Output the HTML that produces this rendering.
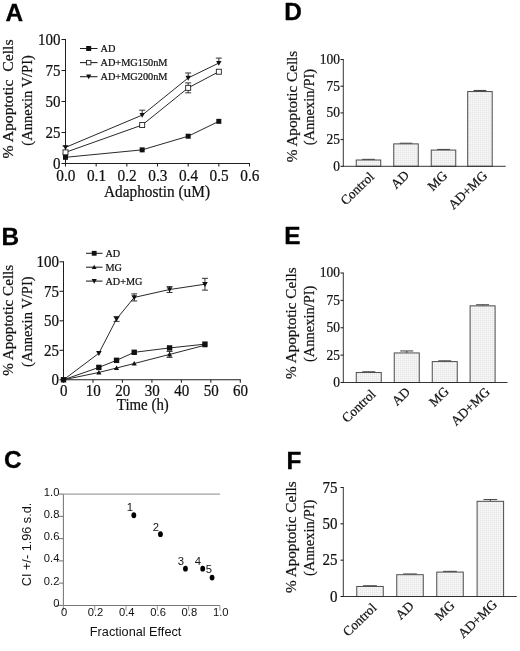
<!DOCTYPE html>
<html><head><meta charset="utf-8"><title>Figure</title>
<style>
html,body{margin:0;padding:0;background:#fff;}
body{width:520px;height:651px;overflow:hidden;font-family:"Liberation Serif",serif;}
svg{display:block;filter:grayscale(1) blur(0.28px);}
</style></head><body>
<svg width="520" height="651" viewBox="0 0 520 651">
<rect width="520" height="651" fill="#fff"/>
<text x="5.50" y="21.30" font-family='"Liberation Sans", sans-serif' font-size="24.4" text-anchor="start" font-weight="bold" fill="#000" stroke="#000" stroke-width="0.3">A</text>
<text x="1.40" y="245.30" font-family='"Liberation Sans", sans-serif' font-size="24.4" text-anchor="start" font-weight="bold" fill="#000" stroke="#000" stroke-width="0.3">B</text>
<text x="3.90" y="468.00" font-family='"Liberation Sans", sans-serif' font-size="24.4" text-anchor="start" font-weight="bold" fill="#000" stroke="#000" stroke-width="0.3">C</text>
<text x="284.20" y="20.40" font-family='"Liberation Sans", sans-serif' font-size="24.4" text-anchor="start" font-weight="bold" fill="#000" stroke="#000" stroke-width="0.3">D</text>
<text x="284.20" y="244.20" font-family='"Liberation Sans", sans-serif' font-size="24.4" text-anchor="start" font-weight="bold" fill="#000" stroke="#000" stroke-width="0.3">E</text>
<text x="286.60" y="468.60" font-family='"Liberation Sans", sans-serif' font-size="24.4" text-anchor="start" font-weight="bold" fill="#000" stroke="#000" stroke-width="0.3">F</text>
<line x1="65.50" y1="39.00" x2="65.50" y2="164.00" stroke="#1e1e1e" stroke-width="1.05"/>
<line x1="65.00" y1="163.50" x2="250.00" y2="163.50" stroke="#1e1e1e" stroke-width="1.05"/>
<line x1="61.50" y1="163.50" x2="65.50" y2="163.50" stroke="#1e1e1e" stroke-width="1.05"/>
<text x="0" y="0" font-family='"Liberation Serif", serif' font-size="15" text-anchor="end" font-weight="normal" fill="#111" transform="translate(60.50 169.00) scale(1 1.09)"  stroke="#111" stroke-width="0.22">0</text>
<line x1="61.50" y1="132.50" x2="65.50" y2="132.50" stroke="#1e1e1e" stroke-width="1.05"/>
<text x="0" y="0" font-family='"Liberation Serif", serif' font-size="15" text-anchor="end" font-weight="normal" fill="#111" transform="translate(60.50 138.00) scale(1 1.09)"  stroke="#111" stroke-width="0.22">25</text>
<line x1="61.50" y1="101.50" x2="65.50" y2="101.50" stroke="#1e1e1e" stroke-width="1.05"/>
<text x="0" y="0" font-family='"Liberation Serif", serif' font-size="15" text-anchor="end" font-weight="normal" fill="#111" transform="translate(60.50 107.00) scale(1 1.09)"  stroke="#111" stroke-width="0.22">50</text>
<line x1="61.50" y1="70.50" x2="65.50" y2="70.50" stroke="#1e1e1e" stroke-width="1.05"/>
<text x="0" y="0" font-family='"Liberation Serif", serif' font-size="15" text-anchor="end" font-weight="normal" fill="#111" transform="translate(60.50 76.00) scale(1 1.09)"  stroke="#111" stroke-width="0.22">75</text>
<line x1="61.50" y1="39.50" x2="65.50" y2="39.50" stroke="#1e1e1e" stroke-width="1.05"/>
<text x="0" y="0" font-family='"Liberation Serif", serif' font-size="15" text-anchor="end" font-weight="normal" fill="#111" transform="translate(60.50 45.00) scale(1 1.09)"  stroke="#111" stroke-width="0.22">100</text>
<line x1="65.50" y1="163.50" x2="65.50" y2="166.50" stroke="#1e1e1e" stroke-width="1.05"/>
<text x="0" y="0" font-family='"Liberation Serif", serif' font-size="15.3" text-anchor="middle" font-weight="normal" fill="#111" transform="translate(65.80 180.70) scale(1 1.09)"  stroke="#111" stroke-width="0.22">0.0</text>
<line x1="96.17" y1="163.50" x2="96.17" y2="166.50" stroke="#1e1e1e" stroke-width="1.05"/>
<text x="0" y="0" font-family='"Liberation Serif", serif' font-size="15.3" text-anchor="middle" font-weight="normal" fill="#111" transform="translate(96.47 180.70) scale(1 1.09)"  stroke="#111" stroke-width="0.22">0.1</text>
<line x1="126.83" y1="163.50" x2="126.83" y2="166.50" stroke="#1e1e1e" stroke-width="1.05"/>
<text x="0" y="0" font-family='"Liberation Serif", serif' font-size="15.3" text-anchor="middle" font-weight="normal" fill="#111" transform="translate(127.13 180.70) scale(1 1.09)"  stroke="#111" stroke-width="0.22">0.2</text>
<line x1="157.50" y1="163.50" x2="157.50" y2="166.50" stroke="#1e1e1e" stroke-width="1.05"/>
<text x="0" y="0" font-family='"Liberation Serif", serif' font-size="15.3" text-anchor="middle" font-weight="normal" fill="#111" transform="translate(157.80 180.70) scale(1 1.09)"  stroke="#111" stroke-width="0.22">0.3</text>
<line x1="188.17" y1="163.50" x2="188.17" y2="166.50" stroke="#1e1e1e" stroke-width="1.05"/>
<text x="0" y="0" font-family='"Liberation Serif", serif' font-size="15.3" text-anchor="middle" font-weight="normal" fill="#111" transform="translate(188.47 180.70) scale(1 1.09)"  stroke="#111" stroke-width="0.22">0.4</text>
<line x1="218.83" y1="163.50" x2="218.83" y2="166.50" stroke="#1e1e1e" stroke-width="1.05"/>
<text x="0" y="0" font-family='"Liberation Serif", serif' font-size="15.3" text-anchor="middle" font-weight="normal" fill="#111" transform="translate(219.13 180.70) scale(1 1.09)"  stroke="#111" stroke-width="0.22">0.5</text>
<line x1="249.50" y1="163.50" x2="249.50" y2="166.50" stroke="#1e1e1e" stroke-width="1.05"/>
<text x="0" y="0" font-family='"Liberation Serif", serif' font-size="15.3" text-anchor="middle" font-weight="normal" fill="#111" transform="translate(249.80 180.70) scale(1 1.09)"  stroke="#111" stroke-width="0.22">0.6</text>
<text x="0" y="0" font-family='"Liberation Serif", serif' font-size="15.6" text-anchor="middle" font-weight="normal" fill="#111" transform="translate(157.00 196.60) scale(1 1.09)"  textLength="106.0" lengthAdjust="spacingAndGlyphs" stroke="#111" stroke-width="0.22">Adaphostin (uM)</text>
<text x="13.20" y="99.00" font-family='"Liberation Serif", serif' font-size="15" text-anchor="middle" font-weight="normal" fill="#111" transform="rotate(-90 13.20 99.00)" xml:space="preserve" textLength="119" lengthAdjust="spacingAndGlyphs" stroke="#111" stroke-width="0.22">% Apoptotic  Cells</text>
<text x="31.60" y="100.40" font-family='"Liberation Serif", serif' font-size="15" text-anchor="middle" font-weight="normal" fill="#111" transform="rotate(-90 31.60 100.40)"  textLength="90.5" lengthAdjust="spacingAndGlyphs" stroke="#111" stroke-width="0.22">(Annexin V/PI)</text>
<polyline fill="none" stroke="#1e1e1e" stroke-width="0.95" points="65.50,157.30 142.17,149.86 188.17,136.22 218.83,121.34"/>
<polyline fill="none" stroke="#1e1e1e" stroke-width="0.95" points="65.50,152.34 142.17,125.06 188.17,87.86 218.83,71.74"/>
<polyline fill="none" stroke="#1e1e1e" stroke-width="0.95" points="65.50,147.38 142.17,115.14 188.17,77.94 218.83,63.06"/>
<line x1="65.50" y1="146.14" x2="65.50" y2="147.38" stroke="#1e1e1e" stroke-width="0.9"/>
<line x1="62.50" y1="146.14" x2="68.50" y2="146.14" stroke="#1e1e1e" stroke-width="0.9"/>
<path d="M62.80 145.22 L68.20 145.22 L65.50 150.08Z" fill="#111"/>
<line x1="142.17" y1="110.18" x2="142.17" y2="115.14" stroke="#1e1e1e" stroke-width="0.9"/>
<line x1="139.17" y1="110.18" x2="145.17" y2="110.18" stroke="#1e1e1e" stroke-width="0.9"/>
<path d="M139.47 112.98 L144.87 112.98 L142.17 117.84Z" fill="#111"/>
<line x1="188.17" y1="72.98" x2="188.17" y2="77.94" stroke="#1e1e1e" stroke-width="0.9"/>
<line x1="185.17" y1="72.98" x2="191.17" y2="72.98" stroke="#1e1e1e" stroke-width="0.9"/>
<path d="M185.47 75.78 L190.87 75.78 L188.17 80.64Z" fill="#111"/>
<line x1="218.83" y1="58.10" x2="218.83" y2="63.06" stroke="#1e1e1e" stroke-width="0.9"/>
<line x1="215.83" y1="58.10" x2="221.83" y2="58.10" stroke="#1e1e1e" stroke-width="0.9"/>
<path d="M216.13 60.90 L221.53 60.90 L218.83 65.76Z" fill="#111"/>
<rect x="63.00" y="149.84" width="5.0" height="5.0" fill="#fff" stroke="#222" stroke-width="0.9"/>
<rect x="139.67" y="122.56" width="5.0" height="5.0" fill="#fff" stroke="#222" stroke-width="0.9"/>
<line x1="188.17" y1="82.90" x2="188.17" y2="87.86" stroke="#1e1e1e" stroke-width="0.9"/>
<line x1="185.17" y1="82.90" x2="191.17" y2="82.90" stroke="#1e1e1e" stroke-width="0.9"/>
<line x1="188.17" y1="87.86" x2="188.17" y2="92.82" stroke="#1e1e1e" stroke-width="0.9"/>
<line x1="185.17" y1="92.82" x2="191.17" y2="92.82" stroke="#1e1e1e" stroke-width="0.9"/>
<rect x="185.67" y="85.36" width="5.0" height="5.0" fill="#fff" stroke="#222" stroke-width="0.9"/>
<rect x="216.33" y="69.24" width="5.0" height="5.0" fill="#fff" stroke="#222" stroke-width="0.9"/>
<rect x="63.00" y="154.80" width="5.0" height="5.0" fill="#111"/>
<rect x="139.67" y="147.36" width="5.0" height="5.0" fill="#111"/>
<rect x="185.67" y="133.72" width="5.0" height="5.0" fill="#111"/>
<rect x="216.33" y="118.84" width="5.0" height="5.0" fill="#111"/>
<line x1="80.00" y1="48.50" x2="97.50" y2="48.50" stroke="#1e1e1e" stroke-width="1.05"/>
<rect x="86.20" y="46.00" width="5.0" height="5.0" fill="#111"/>
<text x="0" y="0" font-family='"Liberation Serif", serif' font-size="10.3" text-anchor="start" font-weight="normal" fill="#111" transform="translate(100.50 52.20) scale(1 1.09)"  stroke="#111" stroke-width="0.22">AD</text>
<line x1="80.00" y1="62.60" x2="97.50" y2="62.60" stroke="#1e1e1e" stroke-width="1.05"/>
<rect x="86.50" y="60.40" width="4.4" height="4.4" fill="#fff" stroke="#222" stroke-width="0.9"/>
<text x="0" y="0" font-family='"Liberation Serif", serif' font-size="10.3" text-anchor="start" font-weight="normal" fill="#111" transform="translate(100.50 66.30) scale(1 1.09)"  stroke="#111" stroke-width="0.22">AD+MG150nM</text>
<line x1="80.00" y1="76.70" x2="97.50" y2="76.70" stroke="#1e1e1e" stroke-width="1.05"/>
<path d="M86.10 74.62 L91.30 74.62 L88.70 79.30Z" fill="#111"/>
<text x="0" y="0" font-family='"Liberation Serif", serif' font-size="10.3" text-anchor="start" font-weight="normal" fill="#111" transform="translate(100.50 80.40) scale(1 1.09)"  stroke="#111" stroke-width="0.22">AD+MG200nM</text>
<line x1="63.50" y1="261.30" x2="63.50" y2="380.30" stroke="#1e1e1e" stroke-width="1.05"/>
<line x1="63.00" y1="379.80" x2="240.80" y2="379.80" stroke="#1e1e1e" stroke-width="1.05"/>
<line x1="59.50" y1="379.80" x2="63.50" y2="379.80" stroke="#1e1e1e" stroke-width="1.05"/>
<text x="0" y="0" font-family='"Liberation Serif", serif' font-size="15" text-anchor="end" font-weight="normal" fill="#111" transform="translate(59.10 385.40) scale(1 1.09)"  stroke="#111" stroke-width="0.22">0</text>
<line x1="59.50" y1="350.30" x2="63.50" y2="350.30" stroke="#1e1e1e" stroke-width="1.05"/>
<text x="0" y="0" font-family='"Liberation Serif", serif' font-size="15" text-anchor="end" font-weight="normal" fill="#111" transform="translate(59.10 355.90) scale(1 1.09)"  stroke="#111" stroke-width="0.22">25</text>
<line x1="59.50" y1="320.80" x2="63.50" y2="320.80" stroke="#1e1e1e" stroke-width="1.05"/>
<text x="0" y="0" font-family='"Liberation Serif", serif' font-size="15" text-anchor="end" font-weight="normal" fill="#111" transform="translate(59.10 326.40) scale(1 1.09)"  stroke="#111" stroke-width="0.22">50</text>
<line x1="59.50" y1="291.30" x2="63.50" y2="291.30" stroke="#1e1e1e" stroke-width="1.05"/>
<text x="0" y="0" font-family='"Liberation Serif", serif' font-size="15" text-anchor="end" font-weight="normal" fill="#111" transform="translate(59.10 296.90) scale(1 1.09)"  stroke="#111" stroke-width="0.22">75</text>
<line x1="59.50" y1="261.80" x2="63.50" y2="261.80" stroke="#1e1e1e" stroke-width="1.05"/>
<text x="0" y="0" font-family='"Liberation Serif", serif' font-size="15" text-anchor="end" font-weight="normal" fill="#111" transform="translate(59.10 267.40) scale(1 1.09)"  stroke="#111" stroke-width="0.22">100</text>
<line x1="63.50" y1="379.80" x2="63.50" y2="382.80" stroke="#1e1e1e" stroke-width="1.05"/>
<text x="0" y="0" font-family='"Liberation Serif", serif' font-size="15" text-anchor="middle" font-weight="normal" fill="#111" transform="translate(63.80 395.80) scale(1 1.09)"  stroke="#111" stroke-width="0.22">0</text>
<line x1="92.97" y1="379.80" x2="92.97" y2="382.80" stroke="#1e1e1e" stroke-width="1.05"/>
<text x="0" y="0" font-family='"Liberation Serif", serif' font-size="15" text-anchor="middle" font-weight="normal" fill="#111" transform="translate(93.27 395.80) scale(1 1.09)"  stroke="#111" stroke-width="0.22">10</text>
<line x1="122.43" y1="379.80" x2="122.43" y2="382.80" stroke="#1e1e1e" stroke-width="1.05"/>
<text x="0" y="0" font-family='"Liberation Serif", serif' font-size="15" text-anchor="middle" font-weight="normal" fill="#111" transform="translate(122.73 395.80) scale(1 1.09)"  stroke="#111" stroke-width="0.22">20</text>
<line x1="151.90" y1="379.80" x2="151.90" y2="382.80" stroke="#1e1e1e" stroke-width="1.05"/>
<text x="0" y="0" font-family='"Liberation Serif", serif' font-size="15" text-anchor="middle" font-weight="normal" fill="#111" transform="translate(152.20 395.80) scale(1 1.09)"  stroke="#111" stroke-width="0.22">30</text>
<line x1="181.37" y1="379.80" x2="181.37" y2="382.80" stroke="#1e1e1e" stroke-width="1.05"/>
<text x="0" y="0" font-family='"Liberation Serif", serif' font-size="15" text-anchor="middle" font-weight="normal" fill="#111" transform="translate(181.67 395.80) scale(1 1.09)"  stroke="#111" stroke-width="0.22">40</text>
<line x1="210.83" y1="379.80" x2="210.83" y2="382.80" stroke="#1e1e1e" stroke-width="1.05"/>
<text x="0" y="0" font-family='"Liberation Serif", serif' font-size="15" text-anchor="middle" font-weight="normal" fill="#111" transform="translate(211.13 395.80) scale(1 1.09)"  stroke="#111" stroke-width="0.22">50</text>
<line x1="240.30" y1="379.80" x2="240.30" y2="382.80" stroke="#1e1e1e" stroke-width="1.05"/>
<text x="0" y="0" font-family='"Liberation Serif", serif' font-size="15" text-anchor="middle" font-weight="normal" fill="#111" transform="translate(240.60 395.80) scale(1 1.09)"  stroke="#111" stroke-width="0.22">60</text>
<text x="0" y="0" font-family='"Liberation Serif", serif' font-size="15.6" text-anchor="middle" font-weight="normal" fill="#111" transform="translate(142.80 410.00) scale(1 1.09)"  textLength="52.0" lengthAdjust="spacingAndGlyphs" stroke="#111" stroke-width="0.22">Time (h)</text>
<text x="13.20" y="320.30" font-family='"Liberation Serif", serif' font-size="15" text-anchor="middle" font-weight="normal" fill="#111" transform="rotate(-90 13.20 320.30)"  textLength="111" lengthAdjust="spacingAndGlyphs" stroke="#111" stroke-width="0.22">% Apoptotic Cells</text>
<text x="31.60" y="321.70" font-family='"Liberation Serif", serif' font-size="15" text-anchor="middle" font-weight="normal" fill="#111" transform="rotate(-90 31.60 321.70)"  textLength="90.5" lengthAdjust="spacingAndGlyphs" stroke="#111" stroke-width="0.22">(Annexin V/PI)</text>
<polyline fill="none" stroke="#1e1e1e" stroke-width="0.95" points="63.50,379.80 98.86,367.41 116.54,360.33 134.22,352.31 169.58,347.94 204.94,344.16"/>
<polyline fill="none" stroke="#1e1e1e" stroke-width="0.95" points="63.50,379.80 98.86,372.48 116.54,368.00 134.22,363.52 169.58,354.43 204.94,345.23"/>
<polyline fill="none" stroke="#1e1e1e" stroke-width="0.95" points="63.50,379.80 98.86,353.25 116.54,319.03 134.22,297.44 169.58,289.53 204.94,284.22"/>
<path d="M60.70 377.56 L66.30 377.56 L63.50 382.60Z" fill="#111"/>
<path d="M96.06 351.01 L101.66 351.01 L98.86 356.05Z" fill="#111"/>
<line x1="116.54" y1="316.67" x2="116.54" y2="319.03" stroke="#1e1e1e" stroke-width="0.9"/>
<line x1="113.54" y1="316.67" x2="119.54" y2="316.67" stroke="#1e1e1e" stroke-width="0.9"/>
<line x1="116.54" y1="319.03" x2="116.54" y2="321.39" stroke="#1e1e1e" stroke-width="0.9"/>
<line x1="113.54" y1="321.39" x2="119.54" y2="321.39" stroke="#1e1e1e" stroke-width="0.9"/>
<path d="M113.74 316.79 L119.34 316.79 L116.54 321.83Z" fill="#111"/>
<line x1="134.22" y1="293.90" x2="134.22" y2="297.44" stroke="#1e1e1e" stroke-width="0.9"/>
<line x1="131.22" y1="293.90" x2="137.22" y2="293.90" stroke="#1e1e1e" stroke-width="0.9"/>
<line x1="134.22" y1="297.44" x2="134.22" y2="300.98" stroke="#1e1e1e" stroke-width="0.9"/>
<line x1="131.22" y1="300.98" x2="137.22" y2="300.98" stroke="#1e1e1e" stroke-width="0.9"/>
<path d="M131.42 295.20 L137.02 295.20 L134.22 300.24Z" fill="#111"/>
<line x1="169.58" y1="286.58" x2="169.58" y2="289.53" stroke="#1e1e1e" stroke-width="0.9"/>
<line x1="166.58" y1="286.58" x2="172.58" y2="286.58" stroke="#1e1e1e" stroke-width="0.9"/>
<line x1="169.58" y1="289.53" x2="169.58" y2="292.48" stroke="#1e1e1e" stroke-width="0.9"/>
<line x1="166.58" y1="292.48" x2="172.58" y2="292.48" stroke="#1e1e1e" stroke-width="0.9"/>
<path d="M166.78 287.29 L172.38 287.29 L169.58 292.33Z" fill="#111"/>
<line x1="204.94" y1="278.32" x2="204.94" y2="284.22" stroke="#1e1e1e" stroke-width="0.9"/>
<line x1="201.94" y1="278.32" x2="207.94" y2="278.32" stroke="#1e1e1e" stroke-width="0.9"/>
<line x1="204.94" y1="284.22" x2="204.94" y2="290.12" stroke="#1e1e1e" stroke-width="0.9"/>
<line x1="201.94" y1="290.12" x2="207.94" y2="290.12" stroke="#1e1e1e" stroke-width="0.9"/>
<path d="M202.14 281.98 L207.74 281.98 L204.94 287.02Z" fill="#111"/>
<path d="M60.90 381.88 L66.10 381.88 L63.50 377.20Z" fill="#111"/>
<path d="M96.26 374.56 L101.46 374.56 L98.86 369.88Z" fill="#111"/>
<path d="M113.94 370.08 L119.14 370.08 L116.54 365.40Z" fill="#111"/>
<path d="M131.62 365.60 L136.82 365.60 L134.22 360.92Z" fill="#111"/>
<line x1="169.58" y1="351.48" x2="169.58" y2="354.43" stroke="#1e1e1e" stroke-width="0.9"/>
<line x1="166.58" y1="351.48" x2="172.58" y2="351.48" stroke="#1e1e1e" stroke-width="0.9"/>
<line x1="169.58" y1="354.43" x2="169.58" y2="357.38" stroke="#1e1e1e" stroke-width="0.9"/>
<line x1="166.58" y1="357.38" x2="172.58" y2="357.38" stroke="#1e1e1e" stroke-width="0.9"/>
<path d="M166.98 356.51 L172.18 356.51 L169.58 351.83Z" fill="#111"/>
<path d="M202.34 347.31 L207.54 347.31 L204.94 342.63Z" fill="#111"/>
<rect x="60.80" y="377.10" width="5.4" height="5.4" fill="#111"/>
<rect x="96.16" y="364.71" width="5.4" height="5.4" fill="#111"/>
<rect x="113.84" y="357.63" width="5.4" height="5.4" fill="#111"/>
<rect x="131.52" y="349.61" width="5.4" height="5.4" fill="#111"/>
<rect x="166.88" y="345.24" width="5.4" height="5.4" fill="#111"/>
<rect x="202.24" y="341.46" width="5.4" height="5.4" fill="#111"/>
<line x1="86.00" y1="253.30" x2="102.50" y2="253.30" stroke="#1e1e1e" stroke-width="1.05"/>
<rect x="91.80" y="250.90" width="4.8" height="4.8" fill="#111"/>
<text x="0" y="0" font-family='"Liberation Serif", serif' font-size="10.2" text-anchor="start" font-weight="normal" fill="#111" transform="translate(105.50 257.00) scale(1 1.09)"  stroke="#111" stroke-width="0.22">AD</text>
<line x1="86.00" y1="267.20" x2="102.50" y2="267.20" stroke="#1e1e1e" stroke-width="1.05"/>
<path d="M91.80 269.12 L96.60 269.12 L94.20 264.80Z" fill="#111"/>
<text x="0" y="0" font-family='"Liberation Serif", serif' font-size="10.2" text-anchor="start" font-weight="normal" fill="#111" transform="translate(105.50 270.90) scale(1 1.09)"  stroke="#111" stroke-width="0.22">MG</text>
<line x1="86.00" y1="281.10" x2="102.50" y2="281.10" stroke="#1e1e1e" stroke-width="1.05"/>
<path d="M91.60 279.02 L96.80 279.02 L94.20 283.70Z" fill="#111"/>
<text x="0" y="0" font-family='"Liberation Serif", serif' font-size="10.2" text-anchor="start" font-weight="normal" fill="#111" transform="translate(105.50 284.80) scale(1 1.09)"  stroke="#111" stroke-width="0.22">AD+MG</text>
<line x1="63.40" y1="494.10" x2="63.40" y2="605.40" stroke="#777" stroke-width="1.05"/>
<line x1="63.40" y1="605.40" x2="219.90" y2="605.40" stroke="#777" stroke-width="1.05"/>
<line x1="63.40" y1="494.10" x2="219.90" y2="494.10" stroke="#a0a0a0" stroke-width="1.2"/>
<line x1="56.40" y1="605.40" x2="63.40" y2="605.40" stroke="#777" stroke-width="1.05"/>
<text x="59.40" y="607.00" font-family='"Liberation Sans", sans-serif' font-size="11.2" text-anchor="end" font-weight="normal" fill="#111" >0</text>
<line x1="63.40" y1="605.40" x2="63.40" y2="610.40" stroke="#999" stroke-width="1.05"/>
<text x="64.20" y="615.60" font-family='"Liberation Sans", sans-serif' font-size="11.2" text-anchor="middle" font-weight="normal" fill="#111" >0</text>
<line x1="58.80" y1="583.14" x2="63.40" y2="583.14" stroke="#777" stroke-width="1.05"/>
<text x="59.40" y="584.74" font-family='"Liberation Sans", sans-serif' font-size="11.2" text-anchor="end" font-weight="normal" fill="#111" >0.2</text>
<line x1="94.70" y1="605.40" x2="94.70" y2="610.40" stroke="#999" stroke-width="1.05"/>
<text x="95.50" y="615.60" font-family='"Liberation Sans", sans-serif' font-size="11.2" text-anchor="middle" font-weight="normal" fill="#111" >0.2</text>
<line x1="58.80" y1="560.88" x2="63.40" y2="560.88" stroke="#777" stroke-width="1.05"/>
<text x="59.40" y="562.48" font-family='"Liberation Sans", sans-serif' font-size="11.2" text-anchor="end" font-weight="normal" fill="#111" >0.4</text>
<line x1="126.00" y1="605.40" x2="126.00" y2="610.40" stroke="#999" stroke-width="1.05"/>
<text x="126.80" y="615.60" font-family='"Liberation Sans", sans-serif' font-size="11.2" text-anchor="middle" font-weight="normal" fill="#111" >0.4</text>
<line x1="58.80" y1="538.62" x2="63.40" y2="538.62" stroke="#777" stroke-width="1.05"/>
<text x="59.40" y="540.22" font-family='"Liberation Sans", sans-serif' font-size="11.2" text-anchor="end" font-weight="normal" fill="#111" >0.6</text>
<line x1="157.30" y1="605.40" x2="157.30" y2="610.40" stroke="#999" stroke-width="1.05"/>
<text x="158.10" y="615.60" font-family='"Liberation Sans", sans-serif' font-size="11.2" text-anchor="middle" font-weight="normal" fill="#111" >0.6</text>
<line x1="58.80" y1="516.36" x2="63.40" y2="516.36" stroke="#777" stroke-width="1.05"/>
<text x="59.40" y="517.96" font-family='"Liberation Sans", sans-serif' font-size="11.2" text-anchor="end" font-weight="normal" fill="#111" >0.8</text>
<line x1="188.60" y1="605.40" x2="188.60" y2="610.40" stroke="#999" stroke-width="1.05"/>
<text x="189.40" y="615.60" font-family='"Liberation Sans", sans-serif' font-size="11.2" text-anchor="middle" font-weight="normal" fill="#111" >0.8</text>
<line x1="58.80" y1="494.10" x2="63.40" y2="494.10" stroke="#777" stroke-width="1.05"/>
<text x="59.40" y="495.70" font-family='"Liberation Sans", sans-serif' font-size="11.2" text-anchor="end" font-weight="normal" fill="#111" >1.0</text>
<line x1="219.90" y1="605.40" x2="219.90" y2="610.40" stroke="#999" stroke-width="1.05"/>
<text x="220.70" y="615.60" font-family='"Liberation Sans", sans-serif' font-size="11.2" text-anchor="middle" font-weight="normal" fill="#111" >1.0</text>
<text x="135.60" y="635.80" font-family='"Liberation Sans", sans-serif' font-size="13" text-anchor="middle" font-weight="normal" fill="#111"  textLength="91.5" lengthAdjust="spacingAndGlyphs">Fractional Effect</text>
<text x="30.80" y="544.50" font-family='"Liberation Sans", sans-serif' font-size="13" text-anchor="middle" font-weight="normal" fill="#111" transform="rotate(-90 30.80 544.50)"  textLength="83.5" lengthAdjust="spacingAndGlyphs">CI +/- 1.96 s.d.</text>
<ellipse cx="133.82" cy="515.25" rx="2.4" ry="2.9" fill="#000"/>
<ellipse cx="160.43" cy="534.17" rx="2.4" ry="2.9" fill="#000"/>
<ellipse cx="185.47" cy="568.67" rx="2.4" ry="2.9" fill="#000"/>
<ellipse cx="202.69" cy="568.67" rx="2.4" ry="2.9" fill="#000"/>
<ellipse cx="212.07" cy="577.58" rx="2.4" ry="2.9" fill="#000"/>
<text x="130.00" y="511.30" font-family='"Liberation Sans", sans-serif' font-size="11.3" text-anchor="middle" font-weight="normal" fill="#111" >1</text>
<text x="156.00" y="530.80" font-family='"Liberation Sans", sans-serif' font-size="11.3" text-anchor="middle" font-weight="normal" fill="#111" >2</text>
<text x="181.00" y="564.70" font-family='"Liberation Sans", sans-serif' font-size="11.3" text-anchor="middle" font-weight="normal" fill="#111" >3</text>
<text x="198.00" y="564.70" font-family='"Liberation Sans", sans-serif' font-size="11.3" text-anchor="middle" font-weight="normal" fill="#111" >4</text>
<text x="208.80" y="572.90" font-family='"Liberation Sans", sans-serif' font-size="11.3" text-anchor="middle" font-weight="normal" fill="#111" >5</text>
<defs><pattern id="grid" width="2" height="2" patternUnits="userSpaceOnUse">
<rect width="2" height="2" fill="#fafafa"/><path d="M0 0.5H2M0.5 0V2" stroke="#e6e6e6" stroke-width="0.6"/></pattern></defs>
<line x1="368.50" y1="159.36" x2="368.50" y2="160.00" stroke="#444" stroke-width="1.05"/>
<line x1="362.13" y1="159.36" x2="374.87" y2="159.36" stroke="#444" stroke-width="1.05"/>
<rect x="356.25" y="160.00" width="24.50" height="6.30" fill="url(#grid)" stroke="#4c4c4c" stroke-width="1"/>
<line x1="406.00" y1="143.23" x2="406.00" y2="143.87" stroke="#444" stroke-width="1.05"/>
<line x1="399.63" y1="143.23" x2="412.37" y2="143.23" stroke="#444" stroke-width="1.05"/>
<rect x="393.75" y="143.87" width="24.50" height="22.43" fill="url(#grid)" stroke="#4c4c4c" stroke-width="1"/>
<line x1="443.50" y1="149.43" x2="443.50" y2="150.07" stroke="#444" stroke-width="1.05"/>
<line x1="437.13" y1="149.43" x2="449.87" y2="149.43" stroke="#444" stroke-width="1.05"/>
<rect x="431.25" y="150.07" width="24.50" height="16.23" fill="url(#grid)" stroke="#4c4c4c" stroke-width="1"/>
<line x1="479.95" y1="90.47" x2="479.95" y2="91.54" stroke="#444" stroke-width="1.05"/>
<line x1="473.58" y1="90.47" x2="486.32" y2="90.47" stroke="#444" stroke-width="1.05"/>
<rect x="467.70" y="91.54" width="24.50" height="74.76" fill="url(#grid)" stroke="#4c4c4c" stroke-width="1"/>
<line x1="343.30" y1="59.00" x2="343.30" y2="166.80" stroke="#2a2a2a" stroke-width="0.95"/>
<line x1="342.80" y1="166.30" x2="505.70" y2="166.30" stroke="#2a2a2a" stroke-width="0.95"/>
<line x1="340.50" y1="166.30" x2="343.30" y2="166.30" stroke="#1e1e1e" stroke-width="1.05"/>
<text x="0" y="0" font-family='"Liberation Serif", serif' font-size="13.5" text-anchor="end" font-weight="normal" fill="#111" transform="translate(340.00 170.70) scale(1 1.09)"  stroke="#111" stroke-width="0.22">0</text>
<line x1="340.50" y1="139.60" x2="343.30" y2="139.60" stroke="#1e1e1e" stroke-width="1.05"/>
<text x="0" y="0" font-family='"Liberation Serif", serif' font-size="13.5" text-anchor="end" font-weight="normal" fill="#111" transform="translate(340.00 144.00) scale(1 1.09)"  stroke="#111" stroke-width="0.22">25</text>
<line x1="340.50" y1="112.90" x2="343.30" y2="112.90" stroke="#1e1e1e" stroke-width="1.05"/>
<text x="0" y="0" font-family='"Liberation Serif", serif' font-size="13.5" text-anchor="end" font-weight="normal" fill="#111" transform="translate(340.00 117.30) scale(1 1.09)"  stroke="#111" stroke-width="0.22">50</text>
<line x1="340.50" y1="86.20" x2="343.30" y2="86.20" stroke="#1e1e1e" stroke-width="1.05"/>
<text x="0" y="0" font-family='"Liberation Serif", serif' font-size="13.5" text-anchor="end" font-weight="normal" fill="#111" transform="translate(340.00 90.60) scale(1 1.09)"  stroke="#111" stroke-width="0.22">75</text>
<line x1="340.50" y1="59.50" x2="343.30" y2="59.50" stroke="#1e1e1e" stroke-width="1.05"/>
<text x="0" y="0" font-family='"Liberation Serif", serif' font-size="13.5" text-anchor="end" font-weight="normal" fill="#111" transform="translate(340.00 63.90) scale(1 1.09)"  stroke="#111" stroke-width="0.22">100</text>
<text x="296.50" y="106.50" font-family='"Liberation Serif", serif' font-size="15" text-anchor="middle" font-weight="normal" fill="#111" transform="rotate(-90 296.50 106.50)"  textLength="111.5" lengthAdjust="spacingAndGlyphs" stroke="#111" stroke-width="0.22">% Apoptotic Cells</text>
<text x="314.50" y="107.10" font-family='"Liberation Serif", serif' font-size="15" text-anchor="middle" font-weight="normal" fill="#111" transform="rotate(-90 314.50 107.10)"  textLength="76.5" lengthAdjust="spacingAndGlyphs" stroke="#111" stroke-width="0.22">(Annexin/PI)</text>
<text x="374.90" y="177.60" font-family='"Liberation Serif", serif' font-size="13.3" text-anchor="end" font-weight="normal" fill="#111" transform="rotate(-44 374.90 177.60)"  stroke="#111" stroke-width="0.22">Control</text>
<text x="409.90" y="176.10" font-family='"Liberation Serif", serif' font-size="13.3" text-anchor="end" font-weight="normal" fill="#111" transform="rotate(-44 409.90 176.10)"  stroke="#111" stroke-width="0.22">AD</text>
<text x="448.20" y="176.60" font-family='"Liberation Serif", serif' font-size="13.3" text-anchor="end" font-weight="normal" fill="#111" transform="rotate(-44 448.20 176.60)"  stroke="#111" stroke-width="0.22">MG</text>
<text x="488.05" y="176.60" font-family='"Liberation Serif", serif' font-size="13.3" text-anchor="end" font-weight="normal" fill="#111" transform="rotate(-44 488.05 176.60)"  stroke="#111" stroke-width="0.22">AD+MG</text>
<line x1="368.75" y1="371.77" x2="368.75" y2="372.54" stroke="#444" stroke-width="1.05"/>
<line x1="362.25" y1="371.77" x2="375.25" y2="371.77" stroke="#444" stroke-width="1.05"/>
<rect x="356.25" y="372.54" width="25.00" height="9.96" fill="url(#grid)" stroke="#4c4c4c" stroke-width="1"/>
<line x1="406.75" y1="350.96" x2="406.75" y2="352.94" stroke="#444" stroke-width="1.05"/>
<line x1="400.25" y1="350.96" x2="413.25" y2="350.96" stroke="#444" stroke-width="1.05"/>
<rect x="394.25" y="352.94" width="25.00" height="29.56" fill="url(#grid)" stroke="#4c4c4c" stroke-width="1"/>
<line x1="444.75" y1="360.82" x2="444.75" y2="361.59" stroke="#444" stroke-width="1.05"/>
<line x1="438.25" y1="360.82" x2="451.25" y2="360.82" stroke="#444" stroke-width="1.05"/>
<rect x="432.25" y="361.59" width="25.00" height="20.91" fill="url(#grid)" stroke="#4c4c4c" stroke-width="1"/>
<line x1="482.60" y1="304.75" x2="482.60" y2="305.85" stroke="#444" stroke-width="1.05"/>
<line x1="476.10" y1="304.75" x2="489.10" y2="304.75" stroke="#444" stroke-width="1.05"/>
<rect x="470.10" y="305.85" width="25.00" height="76.65" fill="url(#grid)" stroke="#4c4c4c" stroke-width="1"/>
<line x1="343.30" y1="272.50" x2="343.30" y2="383.00" stroke="#2a2a2a" stroke-width="0.95"/>
<line x1="342.80" y1="382.50" x2="507.50" y2="382.50" stroke="#2a2a2a" stroke-width="0.95"/>
<line x1="340.50" y1="382.50" x2="343.30" y2="382.50" stroke="#1e1e1e" stroke-width="1.05"/>
<text x="0" y="0" font-family='"Liberation Serif", serif' font-size="13.5" text-anchor="end" font-weight="normal" fill="#111" transform="translate(340.00 386.90) scale(1 1.09)"  stroke="#111" stroke-width="0.22">0</text>
<line x1="340.50" y1="355.12" x2="343.30" y2="355.12" stroke="#1e1e1e" stroke-width="1.05"/>
<text x="0" y="0" font-family='"Liberation Serif", serif' font-size="13.5" text-anchor="end" font-weight="normal" fill="#111" transform="translate(340.00 359.52) scale(1 1.09)"  stroke="#111" stroke-width="0.22">25</text>
<line x1="340.50" y1="327.75" x2="343.30" y2="327.75" stroke="#1e1e1e" stroke-width="1.05"/>
<text x="0" y="0" font-family='"Liberation Serif", serif' font-size="13.5" text-anchor="end" font-weight="normal" fill="#111" transform="translate(340.00 332.15) scale(1 1.09)"  stroke="#111" stroke-width="0.22">50</text>
<line x1="340.50" y1="300.38" x2="343.30" y2="300.38" stroke="#1e1e1e" stroke-width="1.05"/>
<text x="0" y="0" font-family='"Liberation Serif", serif' font-size="13.5" text-anchor="end" font-weight="normal" fill="#111" transform="translate(340.00 304.77) scale(1 1.09)"  stroke="#111" stroke-width="0.22">75</text>
<line x1="340.50" y1="273.00" x2="343.30" y2="273.00" stroke="#1e1e1e" stroke-width="1.05"/>
<text x="0" y="0" font-family='"Liberation Serif", serif' font-size="13.5" text-anchor="end" font-weight="normal" fill="#111" transform="translate(340.00 277.40) scale(1 1.09)"  stroke="#111" stroke-width="0.22">100</text>
<text x="296.50" y="323.20" font-family='"Liberation Serif", serif' font-size="15" text-anchor="middle" font-weight="normal" fill="#111" transform="rotate(-90 296.50 323.20)"  textLength="111.5" lengthAdjust="spacingAndGlyphs" stroke="#111" stroke-width="0.22">% Apoptotic Cells</text>
<text x="314.50" y="323.80" font-family='"Liberation Serif", serif' font-size="15" text-anchor="middle" font-weight="normal" fill="#111" transform="rotate(-90 314.50 323.80)"  textLength="76.5" lengthAdjust="spacingAndGlyphs" stroke="#111" stroke-width="0.22">(Annexin/PI)</text>
<text x="376.35" y="395.10" font-family='"Liberation Serif", serif' font-size="13.3" text-anchor="end" font-weight="normal" fill="#111" transform="rotate(-44 376.35 395.10)"  stroke="#111" stroke-width="0.22">Control</text>
<text x="410.85" y="392.80" font-family='"Liberation Serif", serif' font-size="13.3" text-anchor="end" font-weight="normal" fill="#111" transform="rotate(-44 410.85 392.80)"  stroke="#111" stroke-width="0.22">AD</text>
<text x="449.65" y="392.30" font-family='"Liberation Serif", serif' font-size="13.3" text-anchor="end" font-weight="normal" fill="#111" transform="rotate(-44 449.65 392.30)"  stroke="#111" stroke-width="0.22">MG</text>
<text x="490.70" y="392.80" font-family='"Liberation Serif", serif' font-size="13.3" text-anchor="end" font-weight="normal" fill="#111" transform="rotate(-44 490.70 392.80)"  stroke="#111" stroke-width="0.22">AD+MG</text>
<line x1="370.00" y1="585.75" x2="370.00" y2="586.47" stroke="#444" stroke-width="1.05"/>
<line x1="363.11" y1="585.75" x2="376.89" y2="585.75" stroke="#444" stroke-width="1.05"/>
<rect x="356.75" y="586.47" width="26.50" height="10.03" fill="url(#grid)" stroke="#4c4c4c" stroke-width="1"/>
<line x1="410.00" y1="573.97" x2="410.00" y2="574.70" stroke="#444" stroke-width="1.05"/>
<line x1="403.11" y1="573.97" x2="416.89" y2="573.97" stroke="#444" stroke-width="1.05"/>
<rect x="396.75" y="574.70" width="26.50" height="21.80" fill="url(#grid)" stroke="#4c4c4c" stroke-width="1"/>
<line x1="450.00" y1="571.36" x2="450.00" y2="572.08" stroke="#444" stroke-width="1.05"/>
<line x1="443.11" y1="571.36" x2="456.89" y2="571.36" stroke="#444" stroke-width="1.05"/>
<rect x="436.75" y="572.08" width="26.50" height="24.42" fill="url(#grid)" stroke="#4c4c4c" stroke-width="1"/>
<line x1="490.35" y1="499.56" x2="490.35" y2="501.31" stroke="#444" stroke-width="1.05"/>
<line x1="483.46" y1="499.56" x2="497.24" y2="499.56" stroke="#444" stroke-width="1.05"/>
<rect x="477.10" y="501.31" width="26.50" height="95.19" fill="url(#grid)" stroke="#4c4c4c" stroke-width="1"/>
<line x1="343.30" y1="487.00" x2="343.30" y2="597.00" stroke="#2a2a2a" stroke-width="0.95"/>
<line x1="342.80" y1="596.50" x2="516.80" y2="596.50" stroke="#2a2a2a" stroke-width="0.95"/>
<line x1="340.50" y1="596.50" x2="343.30" y2="596.50" stroke="#1e1e1e" stroke-width="1.05"/>
<text x="0" y="0" font-family='"Liberation Serif", serif' font-size="15" text-anchor="end" font-weight="normal" fill="#111" transform="translate(337.60 601.73) scale(1 1.09)"  stroke="#111" stroke-width="0.22">0</text>
<line x1="340.50" y1="560.17" x2="343.30" y2="560.17" stroke="#1e1e1e" stroke-width="1.05"/>
<text x="0" y="0" font-family='"Liberation Serif", serif' font-size="15" text-anchor="end" font-weight="normal" fill="#111" transform="translate(337.60 565.39) scale(1 1.09)"  stroke="#111" stroke-width="0.22">25</text>
<line x1="340.50" y1="523.83" x2="343.30" y2="523.83" stroke="#1e1e1e" stroke-width="1.05"/>
<text x="0" y="0" font-family='"Liberation Serif", serif' font-size="15" text-anchor="end" font-weight="normal" fill="#111" transform="translate(337.60 529.06) scale(1 1.09)"  stroke="#111" stroke-width="0.22">50</text>
<line x1="340.50" y1="487.50" x2="343.30" y2="487.50" stroke="#1e1e1e" stroke-width="1.05"/>
<text x="0" y="0" font-family='"Liberation Serif", serif' font-size="15" text-anchor="end" font-weight="normal" fill="#111" transform="translate(337.60 492.72) scale(1 1.09)"  stroke="#111" stroke-width="0.22">75</text>
<text x="296.50" y="537.20" font-family='"Liberation Serif", serif' font-size="15" text-anchor="middle" font-weight="normal" fill="#111" transform="rotate(-90 296.50 537.20)"  textLength="111.5" lengthAdjust="spacingAndGlyphs" stroke="#111" stroke-width="0.22">% Apoptotic Cells</text>
<text x="314.50" y="537.80" font-family='"Liberation Serif", serif' font-size="15" text-anchor="middle" font-weight="normal" fill="#111" transform="rotate(-90 314.50 537.80)"  textLength="76.5" lengthAdjust="spacingAndGlyphs" stroke="#111" stroke-width="0.22">(Annexin/PI)</text>
<text x="377.30" y="608.80" font-family='"Liberation Serif", serif' font-size="13.3" text-anchor="end" font-weight="normal" fill="#111" transform="rotate(-44 377.30 608.80)"  stroke="#111" stroke-width="0.22">Control</text>
<text x="414.60" y="606.80" font-family='"Liberation Serif", serif' font-size="13.3" text-anchor="end" font-weight="normal" fill="#111" transform="rotate(-44 414.60 606.80)"  stroke="#111" stroke-width="0.22">AD</text>
<text x="455.40" y="606.30" font-family='"Liberation Serif", serif' font-size="13.3" text-anchor="end" font-weight="normal" fill="#111" transform="rotate(-44 455.40 606.30)"  stroke="#111" stroke-width="0.22">MG</text>
<text x="497.95" y="605.30" font-family='"Liberation Serif", serif' font-size="13.3" text-anchor="end" font-weight="normal" fill="#111" transform="rotate(-44 497.95 605.30)"  stroke="#111" stroke-width="0.22">AD+MG</text>
</svg>
</body></html>
